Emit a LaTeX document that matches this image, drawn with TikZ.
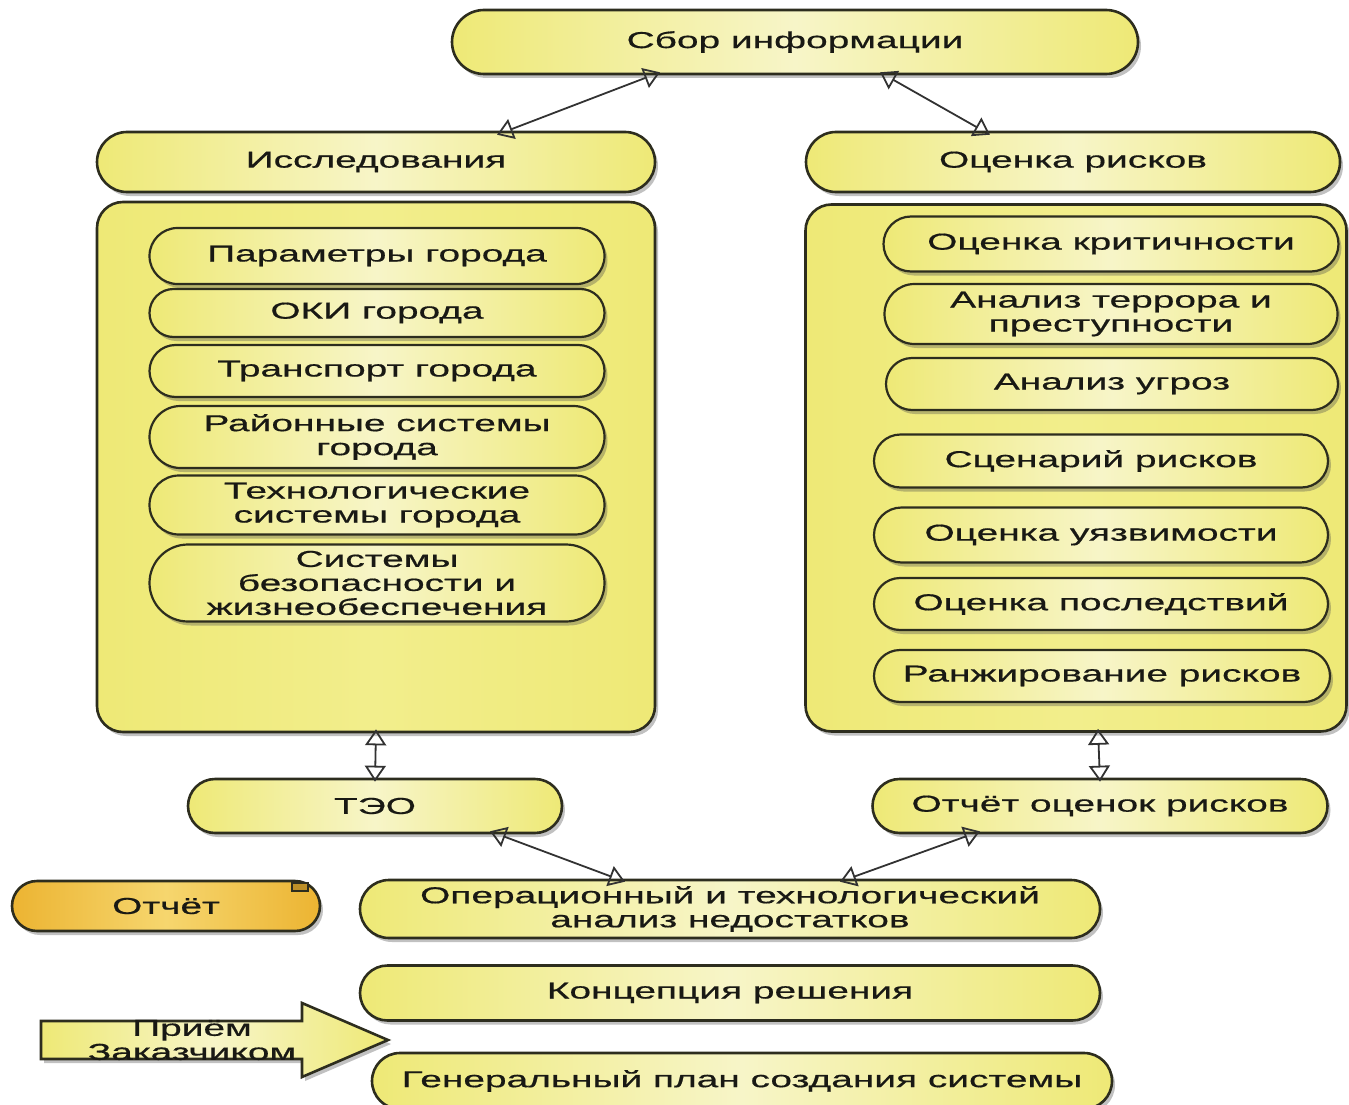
\documentclass[tikz,border=0pt]{standalone}
\usepackage{fontspec}
\setmainfont{Liberation Sans}[FakeStretch=1.69,FakeBold=0.6]
\usetikzlibrary{shapes.misc,shadows,arrows.meta,calc}
\definecolor{ylw}{RGB}{238,233,118}
\definecolor{ylwl}{RGB}{247,245,200}
\definecolor{cont}{RGB}{242,238,140}
\definecolor{org}{RGB}{236,180,50}
\definecolor{orgl}{RGB}{246,214,110}
\definecolor{edge}{RGB}{45,45,30}
\definecolor{txt}{RGB}{25,25,20}
\definecolor{lnk}{RGB}{50,50,50}
\newcommand\lbl{\fontsize{23}{24}\selectfont}
\begin{document}
\begin{tikzpicture}[x=1pt,y=-1pt,
  shd/.style={drop shadow={shadow xshift=3pt,shadow yshift=-4pt,opacity=0.35,fill=black!70}},
  pill/.style={rounded rectangle, draw=edge, line width=2.6pt, left color=ylw, right color=ylw, middle color=ylwl,
    inner sep=0pt, align=center, font=\lbl, text=txt, shd},
  ipill/.style={pill, line width=2.2pt},
  opill/.style={pill, left color=org, right color=org, middle color=orgl},
  contbox/.style={rectangle, rounded corners=26pt, draw=edge, line width=2.6pt, left color=ylw, right color=ylw, middle color=cont, inner sep=0pt, shd},
  biarrow/.style={draw=lnk, line width=1.8pt, {Triangle[open,length=16pt,width=21pt]}-{Triangle[open,length=16pt,width=21pt]}},
  arrowshape/.style={draw=edge, line width=2.6pt, left color=ylw, right color=ylw, middle color=ylwl, shd}
]
\useasboundingbox (0,0) rectangle (1349,1105);

% top
\node[pill, minimum width=686pt, minimum height=64pt] (sbor) at (795,42) {Сбор информации};
\node[pill, minimum width=558pt, minimum height=60pt] (issl) at (376,162) {Исследования};
\node[pill, minimum width=534pt, minimum height=60pt] (ocr) at (1073,162) {Оценка рисков};

% containers
\node[contbox, minimum width=558pt, minimum height=530pt] (lcont) at (376,467) {};
\node[contbox, minimum width=541pt, minimum height=527pt] (rcont) at (1076,468) {};

% left items
\node[ipill, minimum width=455pt, minimum height=56pt] (l1) at (377,256) {Параметры города};
\node[ipill, minimum width=455pt, minimum height=48pt] (l2) at (377,313) {ОКИ города};
\node[ipill, minimum width=455pt, minimum height=52pt] (l3) at (377,371) {Транспорт города};
\node[ipill, minimum width=455pt, minimum height=62pt] (l4) at (377,437) {Районные системы\\города};
\node[ipill, minimum width=455pt, minimum height=59pt] (l5) at (377,505) {Технологические\\системы города};
\node[ipill, minimum width=455pt, minimum height=77pt] (l6) at (377,583) {Системы\\безопасности и\\жизнеобеспечения};

% right items
\node[ipill, minimum width=455pt, minimum height=55pt] (r1) at (1111,244) {Оценка критичности};
\node[ipill, minimum width=453pt, minimum height=60pt] (r2) at (1111,314) {Анализ террора и\\преступности};
\node[ipill, minimum width=452pt, minimum height=52pt] (r3) at (1112,384) {Анализ угроз};
\node[ipill, minimum width=454pt, minimum height=53pt] (r4) at (1101,461) {Сценарий рисков};
\node[ipill, minimum width=454pt, minimum height=55pt] (r5) at (1101,535) {Оценка уязвимости};
\node[ipill, minimum width=454pt, minimum height=52pt] (r6) at (1101,604) {Оценка последствий};
\node[ipill, minimum width=456pt, minimum height=52pt] (r7) at (1102,676) {Ранжирование рисков};

% reports
\node[pill, minimum width=374pt, minimum height=54pt] (teo) at (375,806) {ТЭО};
\node[pill, minimum width=455pt, minimum height=54pt] (rep) at (1100,806) {Отчёт оценок рисков};

% bottom
\node[opill, minimum width=308pt, minimum height=50pt] (otch) at (166,906) {Отчёт};
\node[draw=edge, line width=1.5pt, fill=org!80!black, minimum width=16pt, minimum height=8pt, inner sep=0pt] (otchmark) at (300,887) {};
\node[pill, minimum width=740pt, minimum height=58pt] (oper) at (730,909) {Операционный и технологический\\анализ недостатков};
\node[pill, minimum width=740pt, minimum height=55pt] (konc) at (730,993) {Концепция решения};
\node[pill, minimum width=740pt, minimum height=56pt] (gen) at (742,1081) {Генеральный план создания системы};

% acceptance arrow
\path[arrowshape] (41,1021) -- (302,1021) -- (302,1003) -- (388,1040) -- (302,1077) -- (302,1059) -- (41,1059) -- cycle;
\node[font=\lbl, text=txt, align=center, inner sep=0pt] (priem) at (192,1040) {Приём\\Заказчиком};

% connectors
\draw[biarrow] ([xshift=-135pt,yshift=3pt]sbor.south) -- ([xshift=121pt,yshift=-4pt]issl.north);
\draw[biarrow] ([xshift=85pt,yshift=3pt]sbor.south) -- ([xshift=-83pt,yshift=-4pt]ocr.north);
\draw[biarrow] ([yshift=4pt]lcont.south) -- ([yshift=-4pt]teo.north);
\draw[biarrow] ([xshift=22pt,yshift=4pt]rcont.south) -- ([yshift=-4pt]rep.north);
\draw[biarrow] ([xshift=115pt,yshift=3pt]teo.south) -- ([xshift=-105pt,yshift=-3pt]oper.north);
\draw[biarrow] ([xshift=-120pt,yshift=3pt]rep.south) -- ([xshift=110pt,yshift=-3pt]oper.north);
\end{tikzpicture}
\end{document}
